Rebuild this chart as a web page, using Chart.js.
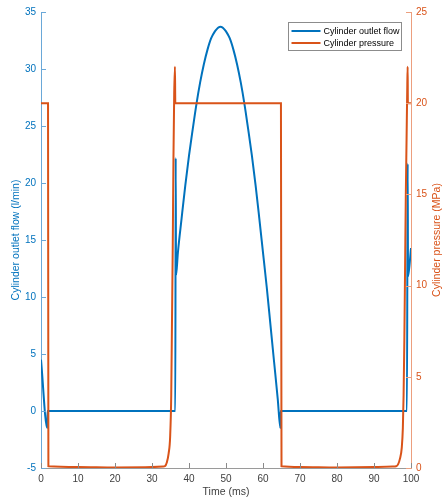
<!DOCTYPE html>
<html>
<head>
<meta charset="utf-8">
<script src="https://cdn.jsdelivr.net/npm/chart.js@4.4.1/dist/chart.umd.min.js"></script>
<style>
  body { margin: 0; background: #fff; }
  #wrap { width: 442px; height: 501px; }
</style>
</head>
<body>
<div id="wrap"><canvas id="myChart"></canvas></div>
<script>
// flow series (l/min) against time (ms)
const flowTime = [0, 1.7, 1.75, 36.3, 36.4, 36.5, 37, 38, 39, 40, 41, 42, 43, 44, 45, 46, 47, 47.5, 48, 48.5, 49, 49.5, 50,
  51, 52, 53, 54, 55, 56, 57, 58, 59, 60, 61, 62, 63, 64, 64.7, 64.75, 98.9, 99.1, 99.2, 100];
const flowValues = [4.5, -1.5, 0, 0, 22.2, 11.9, 13.9, 16.9, 19.8, 22.4, 24.7, 26.9, 28.8, 30.4, 31.7, 32.7, 33.3, 33.5, 33.65, 33.7, 33.65, 33.5, 33.3,
  32.7, 31.7, 30.4, 28.8, 26.9, 24.7, 22.4, 19.8, 16.9, 13.9, 10.9, 7.6, 4.3, 1.0, -1.5, 0, 0, 21.7, 11.8, 14.3];

// pressure series (MPa) against time (ms)
const pressureTime = [0, 1.9, 2.0, 10, 20, 30, 33, 33.5, 34, 34.5, 34.9, 35.2, 35.4, 35.6, 35.8, 36.0, 36.2, 36.3, 50, 64.85,
  65.0, 70, 80, 90, 95, 96, 96.5, 97, 97.5, 97.8, 98.0, 98.2, 98.4, 98.6, 98.8, 99.0, 99.1, 99.15, 100];
const pressureValues = [20, 20, 0.1, 0.06, 0.03, 0.05, 0.08, 0.1, 0.3, 0.8, 1.7, 4, 8, 12, 17, 20.5, 22, 20, 20, 20,
  0.1, 0.06, 0.03, 0.05, 0.08, 0.1, 0.2, 0.5, 1.1, 2.2, 4, 7, 11, 15, 18, 21, 22, 20, 20];

const seriesNames = ['Cylinder outlet flow', 'Cylinder pressure'];
const xTitle = 'Time (ms)';
const yTitle = 'Cylinder outlet flow (l/min)';
const y2Title = 'Cylinder pressure (MPa)';

const BLUE = '#0072BD';
const ORANGE = '#D95319';
const FONT = "'Liberation Sans', Arial, sans-serif";

const toPoints = (xs, ys) => xs.map((x, i) => ({ x: x, y: ys[i] }));

// inward ticks, axis titles and the boxed legend
const decor = {
  id: 'decor',
  afterDraw(chart) {
    const ctx = chart.ctx;
    const a = chart.chartArea;
    const sx = chart.scales.x, sy = chart.scales.y, sy2 = chart.scales.y2;
    ctx.save();
    ctx.lineWidth = 1;

    ctx.strokeStyle = '#8a8a8a';
    sx.ticks.forEach(t => {
      const px = Math.round(sx.getPixelForValue(t.value)) + 0.5;
      ctx.beginPath(); ctx.moveTo(px, a.bottom); ctx.lineTo(px, a.bottom - 5); ctx.stroke();
    });
    ctx.strokeStyle = '#6aa8d8';
    sy.ticks.forEach(t => {
      const py = Math.round(sy.getPixelForValue(t.value)) + 0.5;
      ctx.beginPath(); ctx.moveTo(a.left, py); ctx.lineTo(a.left + 5, py); ctx.stroke();
    });
    ctx.strokeStyle = '#ec9f7e';
    sy2.ticks.forEach(t => {
      const py = Math.round(sy2.getPixelForValue(t.value)) + 0.5;
      ctx.beginPath(); ctx.moveTo(a.right, py); ctx.lineTo(a.right - 5, py); ctx.stroke();
    });

    // titles
    const midY = (a.top + a.bottom) / 2;
    ctx.font = '10.5px ' + FONT;
    ctx.textAlign = 'center';
    ctx.textBaseline = 'middle';
    ctx.fillStyle = '#404040';
    ctx.fillText(xTitle, (a.left + a.right) / 2, 492);

    ctx.save();
    ctx.translate(16, midY);
    ctx.rotate(-Math.PI / 2);
    ctx.fillStyle = BLUE;
    ctx.fillText(yTitle, 0, 0);
    ctx.restore();

    ctx.save();
    ctx.translate(437, midY);
    ctx.rotate(-Math.PI / 2);
    ctx.fillStyle = ORANGE;
    ctx.fillText(y2Title, 0, 0);
    ctx.restore();

    // legend
    const lx = 288.5, ly = 22.5, lw = 113, lh = 28;
    ctx.fillStyle = '#fff';
    ctx.fillRect(lx, ly, lw, lh);
    ctx.strokeStyle = '#8c8c8c';
    ctx.strokeRect(lx, ly, lw, lh);
    ctx.font = '9px ' + FONT;
    ctx.textAlign = 'left';
    chart.data.datasets.forEach((ds, i) => {
      const yy = ly + 8.5 + i * 12;
      ctx.strokeStyle = ds.borderColor;
      ctx.lineWidth = 2;
      ctx.beginPath(); ctx.moveTo(lx + 3, yy); ctx.lineTo(lx + 32, yy); ctx.stroke();
      ctx.fillStyle = '#000';
      ctx.fillText(ds.label, lx + 35, yy + 0.5);
    });
    ctx.restore();
  }
};

const data = {
  datasets: [{
    label: seriesNames[0],
    data: toPoints(flowTime, flowValues),
    borderColor: BLUE,
    backgroundColor: BLUE,
    yAxisID: 'y',
    order: 1
  }, {
    label: seriesNames[1],
    data: toPoints(pressureTime, pressureValues),
    borderColor: ORANGE,
    backgroundColor: ORANGE,
    yAxisID: 'y2',
    order: 0
  }]
};

const config = {
  type: 'line',
  data: data,
  plugins: [decor],
  options: {
    responsive: true,
    maintainAspectRatio: false,
    animation: false,
    devicePixelRatio: 1,
    layout: { padding: { top: 12, left: 0, right: 0, bottom: 0 } },
    elements: {
      point: { radius: 0 },
      line: { borderWidth: 2, cubicInterpolationMode: 'monotone' }
    },
    plugins: { legend: { display: false }, tooltip: { enabled: false } },
    scales: {
      x: {
        type: 'linear', min: 0, max: 100,
        ticks: { stepSize: 10, color: '#404040', padding: 5, font: { family: FONT, size: 10 } },
        grid: { drawOnChartArea: false, drawTicks: false },
        border: { color: '#9a9a9a', width: 1 },
        afterFit: s => { s.height = 33; }
      },
      y: {
        position: 'left', min: -5, max: 35,
        ticks: { stepSize: 5, color: BLUE, padding: 5, font: { family: FONT, size: 10 } },
        grid: { drawOnChartArea: false, drawTicks: false },
        border: { color: '#6aa8d8', width: 1 },
        afterFit: s => { s.width = 41; }
      },
      y2: {
        position: 'right', min: 0, max: 25,
        ticks: { stepSize: 5, color: ORANGE, padding: 5, font: { family: FONT, size: 10 } },
        grid: { drawOnChartArea: false, drawTicks: false },
        border: { color: '#ec9f7e', width: 1 },
        afterFit: s => { s.width = 31; }
      }
    }
  }
};

const myChart = new Chart(document.getElementById('myChart'), config);
</script>
</body>
</html>
